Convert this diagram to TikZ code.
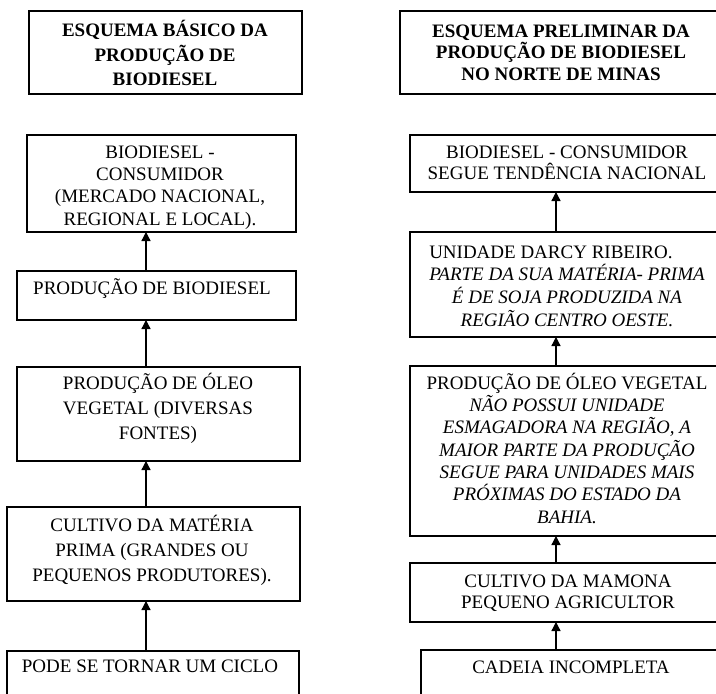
\documentclass[tikz,border=0pt]{standalone}
\usepackage{fontspec}
\setmainfont{Liberation Serif}
\usetikzlibrary{arrows.meta}
\begin{document}
\begin{tikzpicture}[x=1pt,y=-1pt,
  box/.style={draw=black, line width=1.2pt, anchor=north west, inner sep=0pt, outer sep=0pt},
  txt/.style={anchor=base, align=center, inner sep=0pt, font=\fontsize{19}{22.3}\selectfont},
  arr/.style={line width=1.3pt, -{Triangle[width=9pt,length=9pt]}}]
\useasboundingbox (0,0) rectangle (716,694);
\clip (0,0) rectangle (716,694);
\fill[white] (0,0) rectangle (716,694);
\coordinate (axL) at (146,0);
\coordinate (axR) at (556,0);
% left column
\node[box, minimum width=273pt, minimum height=83pt] (lt) at (29,11) {};
\node[txt, font=\fontsize{19}{24.5}\selectfont\bfseries] (ltt) at (165,85.5) {ESQUEMA BÁSICO DA\\PRODUÇÃO DE\\BIODIESEL};
\node[box, minimum width=269pt, minimum height=97pt] (l2) at (27,135) {};
\node[txt] (l2t) at (160,225) {BIODIESEL -\\CONSUMIDOR\\(MERCADO NACIONAL,\\REGIONAL E LOCAL).};
\node[box, minimum width=279pt, minimum height=49pt] (l3) at (17,271) {};
\node[txt] (l3t) at (152,294) {PRODUÇÃO DE BIODIESEL};
\node[box, minimum width=283pt, minimum height=94pt] (l4) at (17,367) {};
\node[txt, font=\fontsize{19}{25}\selectfont] (l4t) at (158,439) {PRODUÇÃO DE ÓLEO\\VEGETAL (DIVERSAS\\FONTES)};
\node[box, minimum width=293pt, minimum height=94pt] (l5) at (7,507) {};
\node[txt, font=\fontsize{19}{25}\selectfont] (l5t) at (152,581) {CULTIVO DA MATÉRIA\\PRIMA (GRANDES OU\\PEQUENOS PRODUTORES).};
\node[box, minimum width=292pt, minimum height=80pt] (l6) at (7,651) {};
\node[txt] (l6t) at (150,672) {PODE SE TORNAR UM CICLO};
% right column
\node[box, minimum width=340pt, minimum height=83pt] (rt) at (400,11) {};
\node[txt, font=\fontsize{19}{21.5}\selectfont\bfseries] (rtt) at (561,80) {ESQUEMA PRELIMINAR DA\\PRODUÇÃO DE BIODIESEL\\NO NORTE DE MINAS};
\node[box, minimum width=330pt, minimum height=57pt] (r2) at (410,135) {};
\node[txt, font=\fontsize{19}{20.5}\selectfont] (r2t) at (567,179) {BIODIESEL - CONSUMIDOR\\SEGUE TENDÊNCIA NACIONAL};
\node[box, minimum width=330pt, minimum height=105pt] (r3) at (410,232) {};
\node[txt, font=\fontsize{19}{21.7}\selectfont] (r3t) at (567,258) {\begin{tabular}[t]{@{}c@{}}\multicolumn{1}{@{}l@{}}{UNIDADE DARCY RIBEIRO.}\\\textit{PARTE DA SUA MATÉRIA- PRIMA}\\\textit{É DE SOJA PRODUZIDA NA}\\\textit{REGIÃO CENTRO OESTE.}\end{tabular}};
\node[box, minimum width=330pt, minimum height=170pt] (r4) at (410,366) {};
\node[txt] (r4t) at (567,523) {PRODUÇÃO DE ÓLEO VEGETAL\\\textit{NÃO POSSUI UNIDADE}\\\textit{ESMAGADORA NA REGIÃO, A}\\\textit{MAIOR PARTE DA PRODUÇÃO}\\\textit{SEGUE PARA UNIDADES MAIS}\\\textit{PRÓXIMAS DO ESTADO DA}\\\textit{BAHIA.}};
\node[box, minimum width=330pt, minimum height=59pt] (r5) at (410,563) {};
\node[txt, font=\fontsize{19}{21}\selectfont] (r5t) at (568,608) {CULTIVO DA MAMONA\\PEQUENO AGRICULTOR};
\node[box, minimum width=319pt, minimum height=80pt] (r6) at (421,650) {};
\node[txt] (r6t) at (571,673) {CADEIA INCOMPLETA};
% arrows
\draw[arr] (l3.north -| axL) -- (l2.south -| axL);
\draw[arr] (l4.north -| axL) -- (l3.south -| axL);
\draw[arr] (l5.north -| axL) -- (l4.south -| axL);
\draw[arr] (l6.north -| axL) -- (l5.south -| axL);
\draw[arr] (r3.north -| axR) -- (r2.south -| axR);
\draw[arr] (r4.north -| axR) -- (r3.south -| axR);
\draw[arr] (r5.north -| axR) -- (r4.south -| axR);
\draw[arr] (r6.north -| axR) -- (r5.south -| axR);
\end{tikzpicture}
\end{document}
